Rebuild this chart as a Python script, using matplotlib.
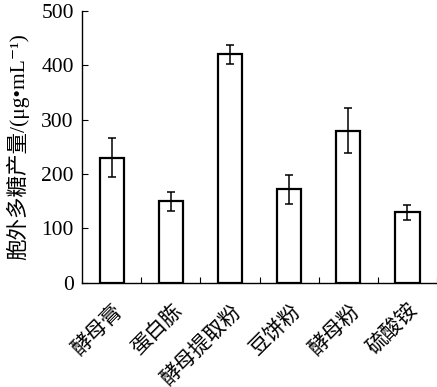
import matplotlib
matplotlib.use("Agg")
import matplotlib.pyplot as plt

# 数据
categories = ["酵母膏", "蛋白胨", "酵母提取粉", "豆饼粉", "酵母粉", "硫酸铵"]
values = [230, 150, 420, 172, 280, 130]
errors = [36, 17, 18, 27, 41, 14]
yticks = [0, 100, 200, 300, 400, 500]

fonts = ["Liberation Serif", "DejaVu Serif", "Noto Sans CJK SC"]
plt.rcParams["font.family"] = fonts

fig = plt.figure(figsize=(4.37, 3.87), dpi=100)
ax = fig.add_axes([0.188, 0.269, 0.812, 0.703])

x = list(range(len(categories)))
ax.bar(x, values, width=0.41, color="white", edgecolor="black", linewidth=1.6, zorder=2)
ax.errorbar(x, values, yerr=errors, fmt="none", ecolor="black", elinewidth=1.1,
            capsize=3, capthick=1.1, zorder=3)

ax.set_xlim(-0.5, 5.5)
ax.set_ylim(0, 500)
ax.set_yticks(yticks)
ax.set_yticklabels([str(v) for v in yticks], fontsize=15.5, family=fonts)
ax.set_xticks(x)
ax.set_xticklabels(categories, rotation=45, ha="right", rotation_mode="anchor",
                   fontsize=15, family=["Noto Sans CJK SC"])
ax.tick_params(axis="x", which="major", length=0, pad=12)
ax.set_xticks([i + 0.5 for i in x], minor=True)
ax.tick_params(axis="x", which="minor", direction="in", length=4, width=0.8)
ax.tick_params(axis="y", direction="in", length=4, width=0.8, pad=6)

ax.spines["top"].set_visible(False)
ax.spines["right"].set_visible(False)
ax.spines["left"].set_linewidth(1.0)
ax.spines["bottom"].set_linewidth(1.0)

ax.set_ylabel("胞外多糖产量/(μg•mL⁻¹)", fontsize=15.5, family=fonts)
ax.yaxis.set_label_coords(-0.148, 0.50)

fig.savefig("out.png", dpi=100)
